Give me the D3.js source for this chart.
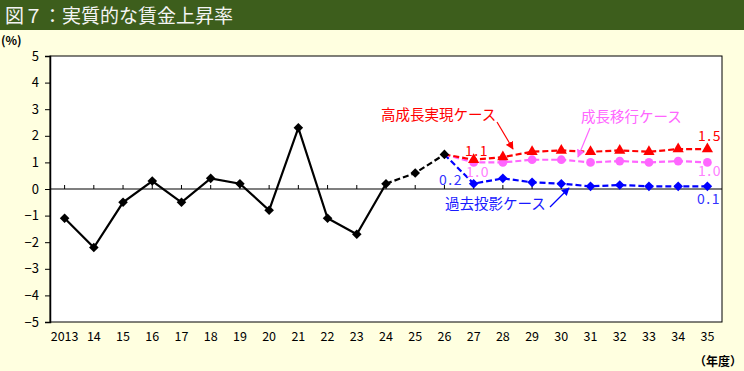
<!DOCTYPE html>
<html><head><meta charset="utf-8">
<script src="https://cdn.jsdelivr.net/npm/d3@7"></script>
<style>
body{margin:0;background:#ffffe0;}
svg{display:block;}
text{font-family:"Noto Sans CJK JP","Liberation Sans",sans-serif;}
</style></head>
<body><div id="chart"></div>
<script>
const years = ["2013","14","15","16","17","18","19","20","21","22","23","24","25","26","27","28","29","30","31","32","33","34","35"];
const yTicks = [-5,-4,-3,-2,-1,0,1,2,3,4,5];
const actualYears = ["2013","14","15","16","17","18","19","20","21","22","23","24"];
const actualVals = [-1.1,-2.2,-0.5,0.3,-0.5,0.4,0.2,-0.8,2.3,-1.1,-1.7,0.2];
const estYears = ["24","25","26"];
const estVals = [0.2,0.6,1.3];
const scenYears = ["26","27","28","29","30","31","32","33","34","35"];
const highVals = [1.3,1.1,1.2,1.4,1.45,1.4,1.45,1.4,1.5,1.5];
const baseVals = [1.3,1.0,1.0,1.1,1.1,1.0,1.05,1.0,1.05,1.0];
const pastVals = [1.3,0.2,0.4,0.25,0.2,0.1,0.15,0.1,0.1,0.1];

const W=744,H=371;
const svg=d3.select("#chart").append("svg").attr("width",W).attr("height",H);
svg.append("rect").attr("width",W).attr("height",H).attr("fill","#ffffe0");
svg.append("rect").attr("width",W).attr("height",30).attr("fill","#3d5e1c");
svg.append("text").attr("x",5).attr("y",23).attr("fill","#f4f4f4").attr("font-size",19).text("図７：実質的な賃金上昇率");
svg.append("text").attr("x",1).attr("y",45).attr("font-size",12).attr("font-weight","bold").text("(%)");

const L=50,R=722,T=56,B=322;
const x=d3.scaleBand().domain(years).range([L,R]);
const cx=d=>x(d)+x.bandwidth()/2;
const y=d3.scaleLinear().domain([-5,5]).range([B,T]);

svg.append("rect").attr("x",L).attr("y",T).attr("width",R-L).attr("height",B-T).attr("fill","#fff").attr("stroke","#000").attr("stroke-width",1);

// y axis
const ya=svg.append("g").attr("transform",`translate(${L},0)`).call(d3.axisLeft(y).tickValues(yTicks).tickSize(5).tickFormat(d=>d<0?"−"+Math.abs(d):d));
ya.select(".domain").attr("stroke","#000").attr("stroke-width",1.5);
ya.selectAll("text").attr("font-size",13).attr("font-family","Liberation Sans, sans-serif").attr("fill","#000").attr("x",-11);
// zero axis
svg.append("line").attr("x1",L).attr("x2",R).attr("y1",y(0)).attr("y2",y(0)).attr("stroke","#000").attr("stroke-width",1.2);
svg.append("g").selectAll("line").data(years).join("line")
 .attr("x1",d=>cx(d)).attr("x2",d=>cx(d)).attr("y1",y(0)).attr("y2",y(0)-4).attr("stroke","#000");
// x labels
svg.append("g").selectAll("text").data(years).join("text")
 .attr("x",d=>cx(d)).attr("y",341).attr("text-anchor","middle").attr("font-size",12.5)
 .attr("font-family","Liberation Sans, sans-serif").text(d=>d);
svg.append("text").attr("x",742).attr("y",366).attr("text-anchor","end").attr("font-size",12).attr("font-weight","bold").text("（年度）");

const line=d3.line().x(d=>cx(d[0])).y(d=>y(d[1]));
const diamond=d3.symbol().type(d3.symbolSquare).size(46);
function series(ys,vs,color,dash,shape,size){
  const pts=ys.map((d,i)=>[d,vs[i]]);
  svg.append("path").datum(pts).attr("d",line).attr("fill","none").attr("stroke",color).attr("stroke-width",2.2).attr("stroke-dasharray",dash);
  svg.append("g").selectAll("path").data(pts.slice(1)).join("path")
   .attr("transform",d=>`translate(${cx(d[0])},${y(d[1])})`+(shape?"":" rotate(45)"))
   .attr("d",shape?d3.symbol().type(shape).size(size):diamond).attr("fill",color);
}
series(scenYears,pastVals,"#0000ff","6,3",null,0);
series(scenYears,baseVals,"#ff66ff","6,3",d3.symbolCircle,60);
series(scenYears,highVals,"#ff0000","6,3",d3.symbolTriangle,55);

// actual
const apts=actualYears.map((d,i)=>[d,actualVals[i]]);
const epts=estYears.map((d,i)=>[d,estVals[i]]);
svg.append("path").datum(epts).attr("d",line).attr("fill","none").attr("stroke","#000").attr("stroke-width",2.2).attr("stroke-dasharray","6,3");
svg.append("path").datum(apts).attr("d",line).attr("fill","none").attr("stroke","#000").attr("stroke-width",2.2);
svg.append("g").selectAll("path").data(apts.concat(epts.slice(1))).join("path")
 .attr("transform",d=>`translate(${cx(d[0])},${y(d[1])}) rotate(45)`)
 .attr("d",diamond).attr("fill","#000");

// annotations
function label(t,xx,yy,c,anchor){svg.append("text").attr("x",xx).attr("y",yy).attr("fill",c).attr("font-size",14.5).attr("text-anchor",anchor||"start").text(t);}
function num(t,xx,yy,c){svg.append("text").attr("x",xx).attr("y",yy).attr("fill",c).attr("font-size",14).attr("letter-spacing",1.5).attr("font-family","Liberation Sans, sans-serif").text(t);}
label("高成長実現ケース",381,120,"#ff0000");
label("成長移行ケース",581,122,"#ff66ff");
label("過去投影ケース",445,209,"#1a1aff");
num("1.1",465,156,"#ff0000");
num("1.0",466,177,"#ff80ff");
num("0.2",439,185,"#3333ff");
num("1.5",698,141,"#ff0000");
num("1.0",698,176,"#ff80ff");
num("0.1",697,204,"#3333ff");
const defs=svg.append("defs");
[["r","#ff0000"],["p","#ff66ff"],["b","#0000ff"]].forEach(([id,c])=>{
 defs.append("marker").attr("id","a"+id).attr("viewBox","0 0 10 10").attr("refX",9).attr("refY",5)
  .attr("markerWidth",8).attr("markerHeight",8).attr("orient","auto").attr("markerUnits","userSpaceOnUse")
  .append("path").attr("d","M0,0L10,5L0,10z").attr("fill",c);
});
function arrow(x1,y1,x2,y2,id,c){svg.append("line").attr("x1",x1).attr("y1",y1).attr("x2",x2).attr("y2",y2).attr("stroke",c).attr("stroke-width",1.2).attr("marker-end",`url(#a${id})`);}
arrow(497,122,513,149,"r","#ff0000");
arrow(590,128,578,157,"p","#ff66ff");
arrow(550,207,569,188,"b","#0000ff");
</script></body></html>
